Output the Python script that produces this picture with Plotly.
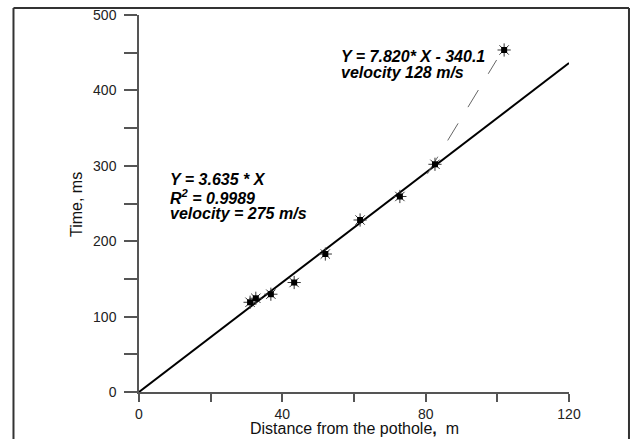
import plotly.graph_objects as go

# Data
distance_m = [31.0, 32.6, 36.8, 43.3, 52.0, 61.7, 72.8, 82.6, 101.9]
time_ms = [119.0, 124.3, 129.7, 145.2, 183.0, 228.1, 259.3, 302.0, 453.6]

# Fitted lines (from the equations printed on the chart)
fit1_slope, fit1_icpt = 3.635, 0.0
fit1_x = [0, 120]
fit2_slope, fit2_icpt = 7.820, -340.1
fit2_x = [80.5, 99.8]

x_major_step, x_minor_step = 40, 20
y_major_step, y_minor_step = 100, 50

FONT = "Liberation Sans, Arial, sans-serif"
AX = "#555555"

fig = go.Figure()

fig.add_trace(go.Scatter(
    x=fit1_x, y=[fit1_slope * v + fit1_icpt for v in fit1_x],
    mode="lines", line=dict(color="black", width=2), showlegend=False))

fig.add_trace(go.Scatter(
    x=fit2_x, y=[fit2_slope * v + fit2_icpt for v in fit2_x],
    mode="lines", line=dict(color="#666666", width=1, dash="20px,19px"), showlegend=False))

fig.add_trace(go.Scatter(
    x=distance_m, y=time_ms, mode="markers",
    marker=dict(symbol="asterisk-open", size=11, color="#333333",
                line=dict(color="#333333", width=1)),
    showlegend=False))
fig.add_trace(go.Scatter(
    x=distance_m, y=time_ms, mode="markers",
    marker=dict(symbol="square", size=6, color="black", line=dict(width=0)),
    showlegend=False))

axis_common = dict(showline=True, linecolor=AX, linewidth=1.5,
                   ticks="outside", tickwidth=1.5, tickcolor=AX,
                   showgrid=False, zeroline=False, automargin=False,
                   tickfont=dict(family=FONT, size=14, color="#222222"))

fig.update_xaxes(range=[0, 120], tick0=0, dtick=x_major_step, ticklen=8,
                 minor=dict(dtick=x_minor_step, ticks="outside", ticklen=8,
                            tickwidth=1.5, tickcolor=AX, showgrid=False),
                 **axis_common)
fig.update_yaxes(range=[0, 500], tick0=0, dtick=y_major_step, ticklen=13,
                 ticklabelstandoff=5,
                 minor=dict(dtick=y_minor_step, ticks="outside", ticklen=13,
                            tickwidth=1.5, tickcolor=AX, showgrid=False),
                 **axis_common)

ann_font = dict(family=FONT, size=16, color="black")
annotations = [
    dict(x=55.8, y=444.7, text="<b><i>Y = 7.820* X - 340.1</i></b>"),
    dict(x=55.8, y=424.0, text="<b><i>velocity 128 m/s</i></b>"),
    dict(x=8.2, y=282.1, text="<b><i>Y = 3.635 * X</i></b>"),
    dict(x=8.2, y=259.0, text="<b><i>R<sup>2</sup> = 0.9989</i></b>"),
    dict(x=8.2, y=237.0, text="<b><i>velocity = 275 m/s</i></b>"),
]
anns = [dict(a, xref="x", yref="y", xanchor="left", yanchor="middle",
             showarrow=False, font=ann_font) for a in annotations]
title_font = dict(family=FONT, size=16, color="#111111")
anns.append(dict(text="Distance from the pothole<b>,</b>  m", xref="paper", yref="paper",
                 x=0.5, y=-0.098, xanchor="center", yanchor="middle",
                 showarrow=False, font=title_font))
anns.append(dict(text="Time, ms", xref="paper", yref="paper", textangle=-90,
                 x=-0.1465, y=0.496, xanchor="center", yanchor="middle",
                 showarrow=False, font=title_font))
fig.update_layout(annotations=anns)

frame = dict(color="#333333", width=2)
fl, fr, ft, fb = -0.2919, 1.1395, 1.0185, -0.3
fig.add_shape(type="line", xref="paper", yref="paper", x0=fl, x1=fl, y0=fb, y1=ft,
              line=frame, layer="above")
fig.add_shape(type="line", xref="paper", yref="paper", x0=fl, x1=fr, y0=ft, y1=ft,
              line=frame, layer="above")
fig.add_shape(type="line", xref="paper", yref="paper", x0=fr, x1=fr, y0=fb, y1=ft,
              line=frame, layer="above")

fig.update_layout(width=631, height=439,
                  margin=dict(l=139, r=62, t=15, b=47),
                  paper_bgcolor="white", plot_bgcolor="white",
                  font=dict(family=FONT))

fig.write_html("out.html", config={"displayModeBar": False},
               post_script="document.body.style.margin='0';document.body.style.overflow='hidden';")
